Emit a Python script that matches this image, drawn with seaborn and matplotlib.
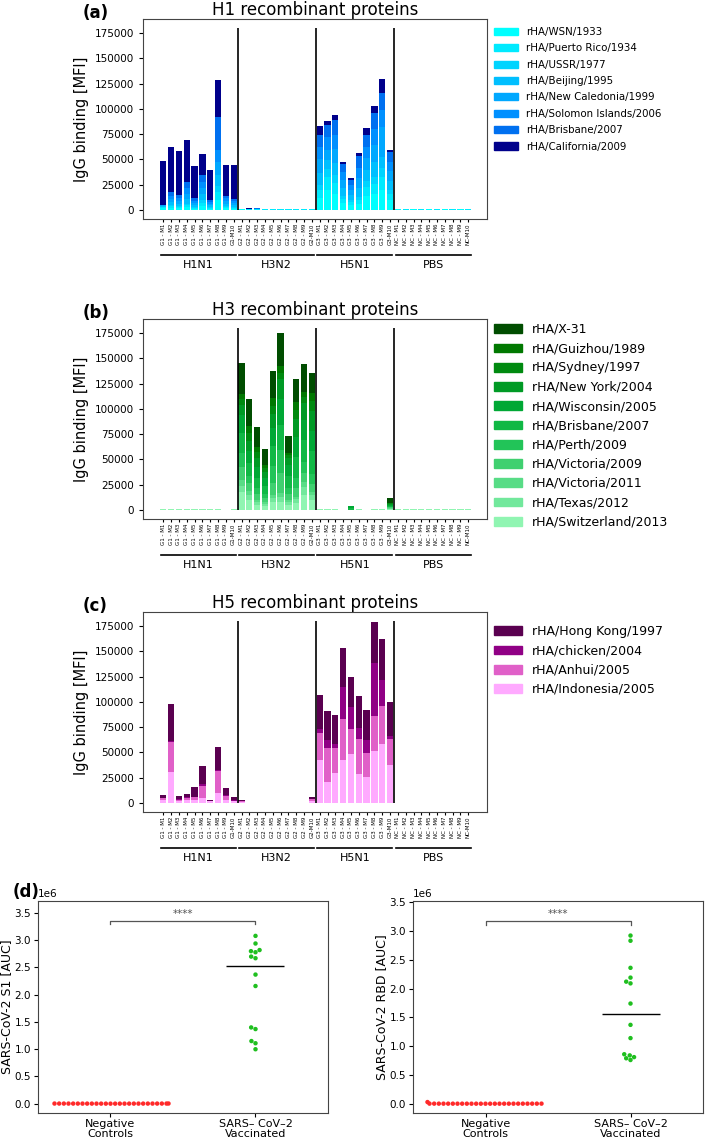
import numpy as np
import pandas as pd
import matplotlib
matplotlib.use('Agg')
import matplotlib.pyplot as plt
import matplotlib.transforms as mtransforms
from matplotlib.patches import Patch
import seaborn as sns

# ---- bar panels: 4 groups x 10 mice ----
groups = ['G1', 'G2', 'G3', 'NC']
group_names = ['H1N1', 'H3N2', 'H5N1', 'PBS']
mice = ['M1', 'M2', 'M3', 'M4', 'M5', 'M6', 'M7', 'M8', 'M9', 'M10']
bar_labels = [f'{g} - {m}' if m != 'M10' else f'{g}-{m}' for g in groups for m in mice]

# (a) H1 proteins, legend order = stack bottom -> top
h1_strains = ['rHA/WSN/1933', 'rHA/Puerto Rico/1934', 'rHA/USSR/1977', 'rHA/Beijing/1995',
              'rHA/New Caledonia/1999', 'rHA/Solomon Islands/2006', 'rHA/Brisbane/2007',
              'rHA/California/2009']
h1_colors = ['#00ffff', '#00eaff', '#00d4ff', '#00bfff', '#00a8ff', '#0090ff', '#0070f0', '#00008b']
h1_wsn = [1500, 2000, 1500, 2500, 1000, 4000, 1000, 10000, 1500, 1200,
          500, 300, 400, 400, 400, 400, 400, 400, 400, 400,
          12000, 20000, 16000, 7000, 5000, 6000, 14000, 16000, 20000, 10000,
          500, 400, 500, 400, 500, 400, 500, 400, 500, 400]
h1_pr = [1000, 1500, 1000, 2000, 1000, 3000, 1000, 8000, 1200, 1000,
         200, 200, 300, 200, 200, 200, 200, 200, 200, 200,
         8000, 13000, 11000, 4000, 3000, 4000, 9000, 10000, 13000, 6000,
         300, 300, 300, 300, 300, 300, 300, 300, 300, 300]
h1_ussr = [800, 1000, 1000, 1500, 800, 3000, 800, 6000, 1000, 800,
           100, 100, 100, 100, 100, 100, 100, 100, 100, 100,
           5000, 7800, 7100, 2600, 1900, 2600, 5500, 6500, 8400, 3500,
           100, 100, 100, 100, 100, 100, 100, 100, 100, 100]
h1_beijing = [600, 3000, 2500, 4800, 2000, 6000, 1700, 11000, 2500, 2000,
              0, 0, 0, 0, 0, 0, 0, 0, 0, 0,
              12000, 9000, 12000, 8000, 5000, 9000, 11000, 15000, 11000, 9000,
              0, 0, 0, 0, 0, 0, 0, 0, 0, 0]
h1_newcal = [500, 3000, 3000, 5000, 2000, 6000, 1800, 12000, 2500, 2000,
             0, 0, 0, 0, 0, 0, 0, 0, 0, 0,
             13000, 10000, 14000, 8000, 5000, 10000, 12000, 17000, 30000, 10000,
             0, 0, 0, 0, 0, 0, 0, 0, 0, 0]
h1_solomon = [400, 3500, 3000, 6000, 2200, 6000, 1800, 12000, 2700, 1900,
              0, 0, 0, 0, 0, 0, 0, 0, 0, 0,
              12000, 12000, 14000, 8000, 4500, 10000, 11000, 16000, 17000, 9000,
              0, 0, 0, 0, 0, 0, 0, 0, 0, 0]
h1_brisbane = [500, 3500, 3000, 6000, 2300, 6100, 1900, 32500, 2800, 2000,
               0, 0, 1500, 0, 0, 0, 0, 0, 0, 0,
               12000, 12100, 15400, 8100, 4800, 11400, 11700, 15000, 16000, 9500,
               0, 0, 0, 0, 0, 0, 0, 0, 0, 0]
h1_california = [42700, 44500, 43300, 41800, 32400, 21200, 30000, 37400, 30500, 33100,
                 0, 1200, 0, 0, 0, 0, 0, 0, 0, 0,
                 8900, 4600, 4300, 2000, 2300, 3000, 6700, 6900, 13900, 2700,
                 0, 0, 0, 0, 0, 0, 0, 0, 0, 0]
h1_values = [h1_wsn, h1_pr, h1_ussr, h1_beijing, h1_newcal, h1_solomon, h1_brisbane, h1_california]

# (b) H3 proteins, legend order = stack top -> bottom
h3_strains = ['rHA/X-31', 'rHA/Guizhou/1989', 'rHA/Sydney/1997', 'rHA/New York/2004',
              'rHA/Wisconsin/2005', 'rHA/Brisbane/2007', 'rHA/Perth/2009', 'rHA/Victoria/2009',
              'rHA/Victoria/2011', 'rHA/Texas/2012', 'rHA/Switzerland/2013']
h3_colors = ['#004d00', '#007800', '#008a10', '#009a25', '#00a835', '#10b845', '#22c458',
             '#40d070', '#58dc86', '#72e89c', '#90f5b2']
z10 = [0, 0, 0, 0, 0, 0, 0, 0, 0, 0]
h3_x31 = z10 + [30000, 26600, 19800, 16500, 26700, 32400, 16500, 22500, 26800, 19100] + \
    [0, 0, 0, 0, 0, 0, 0, 0, 0, 4900] + z10
h3_guizhou = z10 + [5000, 7000, 5700, 3200, 7600, 7100, 2800, 8300, 5200, 8200] + \
    [0, 0, 0, 0, 0, 0, 0, 0, 0, 600] + z10
h3_sydney = z10 + [6000, 8000, 6000, 3500, 8000, 6000, 3000, 9000, 6000, 10000] + \
    [0, 0, 0, 0, 0, 0, 0, 0, 0, 600] + z10
h3_newyork = z10 + [10000, 10000, 9000, 6000, 14000, 20000, 7000, 18000, 17000, 20000] + \
    [0, 0, 0, 0, 0, 0, 0, 0, 0, 800] + z10
h3_wisconsin = z10 + [18000, 12000, 10000, 8000, 18000, 25000, 10000, 20000, 20000, 20000] + \
    [0, 0, 0, 0, 2500, 0, 0, 0, 0, 1000] + z10
h3_brisbane = z10 + [20000, 12000, 10000, 8000, 20000, 25000, 12000, 20000, 22000, 22000] + \
    [0, 0, 0, 0, 1500, 0, 0, 0, 0, 1000] + z10
h3_perth = z10 + [14000, 7000, 6000, 4000, 16000, 23000, 6000, 10000, 10000, 10000] + \
    [0, 0, 0, 0, 0, 0, 0, 0, 0, 800] + z10
h3_vic09 = z10 + [12000, 8000, 6000, 4000, 12000, 20000, 6000, 9000, 9000, 8000] + \
    [0, 0, 0, 0, 0, 0, 0, 0, 0, 700] + z10
h3_vic11 = z10 + [6000, 4000, 2000, 1500, 3000, 3500, 2000, 2000, 5000, 3000] + \
    [0, 0, 0, 0, 0, 0, 0, 0, 0, 500] + z10
h3_texas = z10 + [6000, 5000, 3000, 2000, 4000, 5000, 3000, 4000, 8000, 5000] + \
    [0, 0, 0, 0, 0, 0, 0, 0, 0, 500] + z10
h3_switz = [500, 500, 500, 500, 500, 500, 500, 500, 300, 500] + \
    [18000, 10000, 5000, 4000, 8000, 8000, 5000, 7000, 15000, 10000] + \
    [500, 500, 600, 300, 300, 500, 300, 500, 500, 800] + \
    [500, 500, 500, 500, 500, 500, 500, 500, 500, 500]
h3_values = [h3_x31, h3_guizhou, h3_sydney, h3_newyork, h3_wisconsin, h3_brisbane,
             h3_perth, h3_vic09, h3_vic11, h3_texas, h3_switz]

# (c) H5 proteins, legend order = stack top -> bottom
h5_strains = ['rHA/Hong Kong/1997', 'rHA/chicken/2004', 'rHA/Anhui/2005', 'rHA/Indonesia/2005']
h5_colors = ['#5a0050', '#900085', '#e060c8', '#ffaaff']
h5_hongkong = [3000, 36600, 3300, 3000, 9900, 18100, 200, 22800, 7600, 3000,
               700, 0, 0, 0, 0, 0, 0, 0, 0, 1800,
               33200, 29000, 28000, 39000, 29700, 31200, 30000, 40800, 40300, 34000] + z10
h5_chicken = [500, 1000, 500, 500, 300, 1200, 0, 1000, 1000, 200,
              300, 0, 0, 0, 0, 0, 0, 0, 0, 500,
              4000, 7200, 3900, 31300, 22400, 11600, 12100, 51600, 26500, 3300] + z10
h5_anhui = [1500, 30000, 1000, 2000, 2500, 12000, 300, 21700, 3500, 800,
            500, 0, 0, 0, 0, 0, 0, 0, 0, 1500,
            27500, 33600, 24700, 41000, 24000, 34600, 24200, 35200, 37000, 25700] + z10
h5_indonesia = [3000, 30600, 2000, 3000, 3000, 5200, 2000, 9500, 3000, 1500,
                1000, 400, 400, 400, 400, 400, 400, 400, 400, 2000,
                42000, 21000, 30000, 42300, 48800, 28300, 25600, 51300, 58600, 37200,
                400, 400, 400, 400, 400, 400, 400, 400, 400, 400]
h5_values = [h5_hongkong, h5_chicken, h5_anhui, h5_indonesia]

# ---- (d) SARS-CoV-2 dot plots ----
cat_labels = ['Negative\nControls', 'SARS\u2013 CoV\u20132\nVaccinated']
s1_neg = [3000, 2500, 4000, 1500, 3500, 2000, 2800, 3200, 1800, 2600, 3000, 2200, 2900,
          3100, 2400, 2700, 1900, 3300, 2100, 2500, 3000, 2300, 2800, 2600, 3400, 2000]
s1_vac = [3080000, 2940000, 2820000, 2800000, 2780000, 2700000, 2670000,
          2370000, 2160000, 1400000, 1370000, 1150000, 1110000, 1000000]
rbd_neg = [2000, 1500, 2500, 1800, 2200, 1600, 2400, 2100, 1900, 2300, 1700, 2000, 2600,
           1800, 2200, 2400, 1500, 2100, 2300, 1900, 2000, 2500, 1700, 2200, 2800, 30000]
rbd_vac = [2920000, 2830000, 2360000, 2190000, 2120000, 2090000, 1740000,
           1370000, 1140000, 860000, 840000, 810000, 790000, 760000]

W, H = 709, 1147
fig = plt.figure(figsize=(W / 100, H / 100), dpi=100)


def bar_panel(top_px, title, tag, strains, colors, values, bottom_first, leg_top_px, leg_fs, leg_len, leg_sp):
    ax = fig.add_axes([143 / W, 1 - (top_px + 200) / H, 344 / W, 200 / H])
    order = range(len(strains)) if bottom_first else range(len(strains) - 1, -1, -1)
    cum = np.zeros(len(bar_labels))
    tops = []
    for i in order:
        cum = cum + np.array(values[i], dtype=float)
        tops.append((i, cum.copy()))
    # draw cumulative totals from the top of the stack downwards
    for i, top in reversed(tops):
        sns.barplot(x=bar_labels, y=top, order=bar_labels, color=colors[i], saturation=1,
                    width=0.8, errorbar=None, ax=ax)
    ax.vlines([9.5, 19.5, 29.5], 0, 180000, color='black', lw=1.2)
    ax.set_xlim(-2.6, 41.4)
    ax.set_ylim(-9000, 189000)
    ax.set_yticks(range(0, 175001, 25000))
    ax.tick_params(axis='x', labelsize=4, rotation=90, length=2, pad=1)
    ax.tick_params(axis='y', labelsize=7.5, length=3)
    ax.set_ylabel('IgG binding [MFI]', fontsize=10.5)
    ax.set_xlabel('')
    ax.set_title(title, fontsize=12, pad=3)
    for s in ax.spines.values():
        s.set_color('#444444')
    trans = mtransforms.blended_transform_factory(ax.transData, ax.transAxes)
    for g, name in enumerate(group_names):
        ax.plot([g * 10 - 0.3, g * 10 + 9.3], [-0.18, -0.18], transform=trans,
                clip_on=False, color='black', lw=1.2)
        ax.text(g * 10 + 4.5, -0.205, name, transform=trans, ha='center', va='top', fontsize=8)
    handles = [Patch(color=c, label=s) for s, c in zip(strains, colors)]
    ax.legend(handles=handles, loc='upper left', bbox_to_anchor=(494 / W, 1 - leg_top_px / H),
              bbox_transform=fig.transFigure, frameon=False, fontsize=leg_fs,
              handlelength=leg_len, borderpad=0, borderaxespad=0, labelspacing=leg_sp,
              handletextpad=0.8)
    fig.text(83 / W, 1 - (top_px - 6) / H, tag, fontsize=12, fontweight='bold', va='center')
    return ax


bar_panel(19, 'H1 recombinant proteins', '(a)', h1_strains, h1_colors, h1_values, True, 27, 7.4, 2.3, 0.62)
bar_panel(319, 'H3 recombinant proteins', '(b)', h3_strains, h3_colors, h3_values, False, 323, 9, 2.2, 0.5)
bar_panel(612, 'H5 recombinant proteins', '(c)', h5_strains, h5_colors, h5_values, False, 625, 9, 2.2, 0.5)


def swarm_panel(left_px, neg, vac, ylabel, ylim, br_y, star_y):
    ax = fig.add_axes([left_px / W, 1 - 1113 / H, 290 / W, 212 / H])
    df = pd.DataFrame({'group': [cat_labels[0]] * len(neg) + [cat_labels[1]] * len(vac),
                       'value': neg + vac})
    sns.swarmplot(data=df, x='group', y='value', hue='group', order=cat_labels,
                  palette={cat_labels[0]: '#ff2a2a', cat_labels[1]: '#1fbf1f'},
                  size=3.2, legend=False, ax=ax)
    ax.hlines(np.median(vac), 0.8, 1.2, color='black', lw=1)
    ax.plot([0, 0, 1, 1], [br_y - 0.06e6, br_y, br_y, br_y - 0.06e6], color='#555555', lw=0.9)
    ax.text(0.5, star_y, '****', ha='center', va='center', fontsize=7.5, color='#555555')
    ax.set_xlim(-0.5, 1.5)
    ax.set_ylim(*ylim)
    ax.set_yticks(np.arange(0, 3.51e6, 0.5e6))
    ax.tick_params(axis='y', labelsize=7.5, length=3, pad=2)
    ax.tick_params(axis='x', labelsize=8, length=3, pad=1)
    for lab in ax.get_xticklabels():
        lab.set_linespacing(1.0)
    ax.yaxis.get_offset_text().set_fontsize(7.5)
    ax.set_xlabel('')
    ax.set_ylabel(ylabel, fontsize=9, labelpad=1)
    for s in ax.spines.values():
        s.set_color('#444444')
    return ax


swarm_panel(38, s1_neg, s1_vac, 'SARS-CoV-2 S1 [AUC]', (-0.17e6, 3.72e6), 3.36e6, 3.48e6)
swarm_panel(413, rbd_neg, rbd_vac, 'SARS-CoV-2 RBD [AUC]', (-0.16e6, 3.52e6), 3.17e6, 3.29e6)
fig.text(13 / W, 1 - 892 / H, '(d)', fontsize=12, fontweight='bold', va='center')

fig.savefig('out.png', dpi=100)
